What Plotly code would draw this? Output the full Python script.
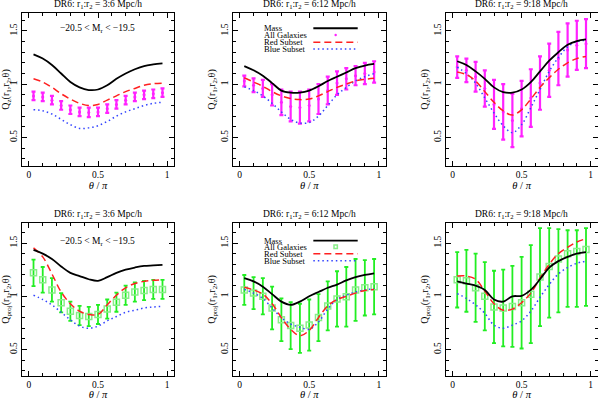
import plotly.graph_objects as go

# ---------------- data ----------------
theta = [0.0333, 0.1, 0.1667, 0.2333, 0.3, 0.3667, 0.4333, 0.5,
         0.5667, 0.6333, 0.7, 0.7667, 0.8333, 0.9, 0.9667]

# Q_z, r1:r2 = 3:6
qz36_mass = [1.28, 1.24, 1.18, 1.10, 1.02, 0.97, 0.945, 0.95, 0.99, 1.05, 1.10, 1.14, 1.17, 1.185, 1.195]
qz36_red = [1.05, 1.02, 0.97, 0.91, 0.86, 0.82, 0.80, 0.81, 0.85, 0.89, 0.93, 0.96, 0.99, 1.005, 1.01]
qz36_blue = [0.76, 0.75, 0.72, 0.67, 0.62, 0.585, 0.59, 0.61, 0.65, 0.70, 0.74, 0.77, 0.80, 0.82, 0.83]
qz36_all = [0.89, 0.88, 0.85, 0.80, 0.76, 0.74, 0.735, 0.74, 0.77, 0.81, 0.85, 0.88, 0.90, 0.91, 0.92]
qz36_err = [0.04, 0.04, 0.04, 0.04, 0.04, 0.04, 0.045, 0.04, 0.04, 0.04, 0.04, 0.04, 0.04, 0.04, 0.04]

# Q_z, r1:r2 = 6:12
qz612_mass = [1.17, 1.13, 1.08, 1.01, 0.94, 0.92, 0.92, 0.94, 0.98, 1.03, 1.07, 1.11, 1.15, 1.175, 1.19]
qz612_red = [1.06, 1.02, 0.98, 0.93, 0.89, 0.865, 0.855, 0.86, 0.89, 0.93, 0.97, 1.00, 1.03, 1.045, 1.055]
qz612_blue = [0.975, 0.94, 0.89, 0.82, 0.74, 0.67, 0.635, 0.64, 0.70, 0.80, 0.90, 0.97, 1.03, 1.07, 1.10]
qz612_all = [1.03, 0.99, 0.96, 0.90, 0.83, 0.79, 0.78, 0.80, 0.86, 0.94, 1.01, 1.05, 1.08, 1.10, 1.115]
qz612_err = [0.05, 0.065, 0.08, 0.10, 0.12, 0.14, 0.15, 0.15, 0.14, 0.13, 0.11, 0.10, 0.09, 0.10, 0.10]

# Q_z, r1:r2 = 9:18
qz918_mass = [1.215, 1.18, 1.12, 1.05, 0.97, 0.925, 0.92, 0.95, 1.02, 1.12, 1.22, 1.30, 1.37, 1.405, 1.42]
qz918_red = [1.115, 1.09, 1.03, 0.93, 0.83, 0.75, 0.71, 0.76, 0.86, 0.97, 1.06, 1.14, 1.20, 1.24, 1.26]
qz918_blue = [1.16, 1.10, 1.01, 0.87, 0.73, 0.61, 0.545, 0.62, 0.78, 0.95, 1.12, 1.25, 1.35, 1.40, 1.41]
qz918_all = [1.16, 1.13, 1.07, 0.96, 0.81, 0.74, 0.66, 0.77, 0.87, 1.01, 1.13, 1.24, 1.32, 1.365, 1.38]
qz918_err = [0.10, 0.11, 0.14, 0.17, 0.23, 0.26, 0.25, 0.26, 0.27, 0.25, 0.25, 0.25, 0.25, 0.23, 0.23]

# Q_proj, r1:r2 = 3:6
qp36_mass = [1.435, 1.40, 1.35, 1.28, 1.22, 1.19, 1.16, 1.145, 1.18, 1.22, 1.25, 1.27, 1.285, 1.29, 1.295]
qp36_red = [1.455, 1.37, 1.21, 1.04, 0.93, 0.86, 0.83, 0.83, 0.92, 1.01, 1.08, 1.12, 1.14, 1.15, 1.155]
qp36_blue = [1.01, 0.97, 0.92, 0.85, 0.78, 0.72, 0.70, 0.72, 0.77, 0.81, 0.85, 0.87, 0.89, 0.90, 0.905]
qp36_all = [1.22, 1.155, 1.06, 0.94, 0.86, 0.82, 0.81, 0.83, 0.88, 0.945, 1.01, 1.04, 1.055, 1.065, 1.065]
qp36_err = [0.125, 0.12, 0.11, 0.09, 0.09, 0.09, 0.09, 0.09, 0.09, 0.09, 0.09, 0.09, 0.09, 0.09, 0.09]

# Q_proj, r1:r2 = 6:12
qp612_mass = [1.17, 1.14, 1.09, 1.02, 0.95, 0.92, 0.95, 1.00, 1.04, 1.08, 1.11, 1.15, 1.18, 1.20, 1.215]
qp612_red = [1.085, 1.06, 1.02, 0.93, 0.80, 0.69, 0.63, 0.68, 0.80, 0.91, 0.97, 1.00, 1.03, 1.055, 1.065]
qp612_blue = [1.065, 1.03, 0.98, 0.89, 0.80, 0.74, 0.71, 0.69, 0.76, 0.88, 0.97, 1.01, 1.04, 1.06, 1.07]
qp612_all = [1.06, 1.03, 1.00, 0.89, 0.78, 0.725, 0.70, 0.73, 0.80, 0.91, 0.975, 0.995, 1.06, 1.08, 1.09]
qp612_err = [0.14, 0.15, 0.17, 0.20, 0.20, 0.22, 0.23, 0.24, 0.22, 0.23, 0.26, 0.28, 0.29, 0.26, 0.26]

# Q_proj, r1:r2 = 9:18
qp918_mass = [1.14, 1.12, 1.10, 1.06, 0.97, 0.95, 1.00, 1.005, 1.06, 1.16, 1.27, 1.33, 1.37, 1.40, 1.415]
qp918_red = [1.19, 1.19, 1.16, 1.05, 0.93, 0.87, 0.88, 0.94, 1.03, 1.17, 1.30, 1.40, 1.46, 1.51, 1.54]
qp918_blue = [1.025, 0.98, 0.92, 0.84, 0.73, 0.70, 0.73, 0.77, 0.86, 0.99, 1.11, 1.21, 1.27, 1.31, 1.33]
qp918_all = [1.155, 1.145, 1.08, 1.00, 0.90, 0.89, 0.905, 0.94, 1.02, 1.18, 1.28, 1.35, 1.40, 1.42, 1.44]
qp918_err_up = [0.26, 0.29, 0.32, 0.32, 0.34, 0.36, 0.38, 0.43, 0.46, 0.46, 0.36, 0.28, 0.22, 0.20, 0.20]
qp918_err_dn = [0.26, 0.29, 0.32, 0.32, 0.34, 0.36, 0.38, 0.43, 0.46, 0.46, 0.48, 0.50, 0.50, 0.52, 0.53]

titles = ["DR6: r<sub>1</sub>:r<sub>2</sub> = 3:6 Mpc/h",
          "DR6: r<sub>1</sub>:r<sub>2</sub> = 6:12 Mpc/h",
          "DR6: r<sub>1</sub>:r<sub>2</sub> = 9:18 Mpc/h"]
legend_labels = ["Mass", "All Galaxies", "Red Subset", "Blue Subset"]
mag_label = "\u221220.5 < M<sub>r</sub> < \u221219.5"
ytitle_top = "Q<sub>z</sub>(r<sub>1</sub>,r<sub>2</sub>,\u03b8)"
ytitle_bot = "Q<sub>proj</sub>(r<sub>1</sub>,r<sub>2</sub>,\u03b8)"
xtitle = "<i>\u03b8</i> / <i>\u03c0</i>"

# ---------------- style ----------------
FONT = "Liberation Serif"
W, H = 598, 400
MAGENTA = "#ff22ff"
GREEN_BAR = "#22ee22"
GREEN_MK = "#88ee88"
RED = "#ff2020"
BLUE = "#3344ff"

xdom = [(22 / W, 174 / W), (232.7 / W, 385.7 / W), (445.7 / W, 597.5 / W)]
ydom = [(1 - 165.7 / H, 1 - 13.3 / H), (1 - 375.7 / H, 1 - 223.3 / H)]
yrng = [[0.235, 1.665], [0.255, 1.685]]

panels = [
    (0, 0, qz36_mass, qz36_red, qz36_blue, qz36_all, qz36_err, qz36_err),
    (0, 1, qz612_mass, qz612_red, qz612_blue, qz612_all, qz612_err, qz612_err),
    (0, 2, qz918_mass, qz918_red, qz918_blue, qz918_all, qz918_err, qz918_err),
    (1, 0, qp36_mass, qp36_red, qp36_blue, qp36_all, qp36_err, qp36_err),
    (1, 1, qp612_mass, qp612_red, qp612_blue, qp612_all, qp612_err, qp612_err),
    (1, 2, qp918_mass, qp918_red, qp918_blue, qp918_all, qp918_err_up, qp918_err_dn),
]

fig = go.Figure()
annotations = []
shapes = []

for k, (r, c, mass, red, blue, allg, eup, edn) in enumerate(panels):
    idx = k + 1
    xa = "x" if idx == 1 else f"x{idx}"
    ya = "y" if idx == 1 else f"y{idx}"
    if r == 0:
        fig.add_trace(go.Scatter(
            x=theta, y=allg, xaxis=xa, yaxis=ya, mode="markers",
            marker=dict(color=MAGENTA, size=3),
            error_y=dict(type="data", array=eup, arrayminus=edn, color=MAGENTA,
                         thickness=2.2, width=2),
            showlegend=False))
    else:
        fig.add_trace(go.Scatter(
            x=theta, y=allg, xaxis=xa, yaxis=ya, mode="markers",
            marker=dict(color=GREEN_MK, size=6, symbol="square-open", line=dict(width=1.5)),
            error_y=dict(type="data", array=eup, arrayminus=edn, color=GREEN_BAR,
                         thickness=1.8, width=2),
            showlegend=False))
    fig.add_trace(go.Scatter(x=theta, y=blue, xaxis=xa, yaxis=ya, mode="lines",
                             line=dict(color=BLUE, width=1.5, dash="1.5px,3px", shape="spline"),
                             showlegend=False))
    fig.add_trace(go.Scatter(x=theta, y=red, xaxis=xa, yaxis=ya, mode="lines",
                             line=dict(color=RED, width=1.5, dash="7px,4px", shape="spline"),
                             showlegend=False))
    fig.add_trace(go.Scatter(x=theta, y=mass, xaxis=xa, yaxis=ya, mode="lines",
                             line=dict(color="black", width=1.8, shape="spline"),
                             showlegend=False))

    axis_common = dict(showline=True, linecolor="black", linewidth=1, mirror="allticks",
                       ticks="inside", ticklen=5, tickcolor="black", tickwidth=1,
                       showgrid=False, zeroline=False,
                       tickfont=dict(family=FONT, size=9.5, color="black"),
                       minor=dict(dtick=0.1, ticks="inside", ticklen=3, tickcolor="black",
                                  showgrid=False))
    xkey = "xaxis" if idx == 1 else f"xaxis{idx}"
    ykey = "yaxis" if idx == 1 else f"yaxis{idx}"
    fig.layout[xkey] = dict(axis_common, domain=list(xdom[c]), anchor=ya,
                            range=[-0.05, 1.05], tickvals=[0, 0.5, 1], ticktext=["0", "0.5", "1"],
                            title=dict(text=xtitle, font=dict(family=FONT, size=10.5, color="black"),
                                       standoff=0))
    fig.layout[ykey] = dict(axis_common, domain=list(ydom[r]), anchor=xa,
                            range=yrng[r], tickvals=[0.5, 1, 1.5], ticktext=["0.5", "1", "1.5"],
                            tickangle=-90,
                            title=dict(text=ytitle_top if r == 0 else ytitle_bot,
                                       font=dict(family=FONT, size=10, color="black"),
                                       standoff=2))

    # panel title
    annotations.append(dict(text=titles[c], xref="paper", yref="paper",
                            x=(xdom[c][0] + xdom[c][1]) / 2,
                            y=ydom[r][1] + 8.5 / H, xanchor="center", yanchor="middle",
                            showarrow=False, font=dict(family=FONT, size=9.5, color="black")))

    dref_x = f"{xa} domain"
    dref_y = f"{ya} domain"
    if c == 0:
        annotations.append(dict(text=mag_label, xref=dref_x, yref=dref_y,
                                x=0.5, y=0.90 if r == 0 else 0.88,
                                xanchor="center", yanchor="middle", showarrow=False,
                                font=dict(family=FONT, size=9.5, color="black")))
    if c == 1:
        ys = [0.902, 0.857, 0.81, 0.766] if r == 0 else [0.886, 0.846, 0.80, 0.755]
        for lab, yy in zip(legend_labels, ys):
            annotations.append(dict(text=lab, xref=dref_x, yref=dref_y, x=0.19, y=yy,
                                    xanchor="left", yanchor="middle", showarrow=False,
                                    font=dict(family=FONT, size=8.5, color="black")))
        shapes.append(dict(type="line", xref=dref_x, yref=dref_y, x0=0.527, x1=0.817,
                           y0=ys[0], y1=ys[0], line=dict(color="black", width=1.8)))
        shapes.append(dict(type="line", xref=dref_x, yref=dref_y, x0=0.527, x1=0.817,
                           y0=ys[2], y1=ys[2], line=dict(color=RED, width=1.5, dash="7px,4px")))
        shapes.append(dict(type="line", xref=dref_x, yref=dref_y, x0=0.527, x1=0.817,
                           y0=ys[3], y1=ys[3], line=dict(color=BLUE, width=1.5, dash="1.5px,3px")))
        if r == 0:
            shapes.append(dict(type="circle", xref=dref_x, yref=dref_y,
                               x0=0.665, x1=0.681, y0=ys[1] - 0.008, y1=ys[1] + 0.008,
                               fillcolor=MAGENTA, line=dict(color=MAGENTA, width=0)))
        else:
            shapes.append(dict(type="rect", xref=dref_x, yref=dref_y,
                               x0=0.662, x1=0.684, y0=ys[1] - 0.011, y1=ys[1] + 0.011,
                               line=dict(color=GREEN_MK, width=1.5)))

fig.update_layout(width=W, height=H, margin=dict(l=0, r=0, t=0, b=0),
                  paper_bgcolor="white", plot_bgcolor="white",
                  annotations=annotations, shapes=shapes, showlegend=False,
                  font=dict(family=FONT, size=10, color="black"))

fig.write_html("out.html", config={"displayModeBar": False},
               post_script="document.body.style.margin='0';document.body.style.padding='0';")
